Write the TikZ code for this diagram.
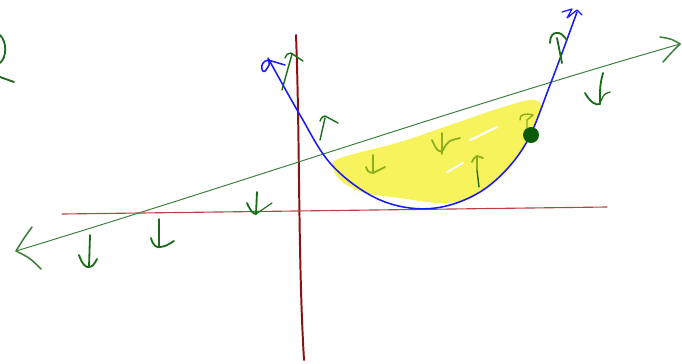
\documentclass[tikz,border=0pt]{standalone}
\usepackage{tikz}
\usetikzlibrary{positioning}

\definecolor{penred}{HTML}{8E1010}
\definecolor{penrose}{HTML}{B54545}
\definecolor{pengreen}{HTML}{1B6B1B}
\definecolor{thingreen}{HTML}{3D803D}
\definecolor{penblue}{HTML}{1A1AF5}
\definecolor{penyellow}{HTML}{F6F35C}
\definecolor{penolive}{HTML}{8CAF1E}
\definecolor{pendot}{HTML}{0B5A0B}

\begin{document}
\begin{tikzpicture}[
    x=0.025cm, y=-0.025cm,
    line cap=round, line join=round,
    axisline/.style={draw=penred, line width=1.4pt},
    baseline/.style={draw=penrose, line width=0.8pt},
    cutline/.style={draw=thingreen, line width=0.7pt},
    curveline/.style={draw=penblue, line width=1.1pt},
    flow/.style={draw=pengreen, line width=1.3pt},
    flowin/.style={draw=penolive, line width=1.3pt},
]
\useasboundingbox (0,0) rectangle (682,363);

% shaded region between line and curve
\fill[penyellow] plot[smooth cycle, tension=0.6] coordinates {
    (333,163) (350,155) (400,142) (450,125) (500,108) (530,100) (541,104)
    (538,116) (527,140) (514,160) (495,180) (470,198) (440,203) (400,198)
    (365,193) (340,180)};
\draw[white, line width=1.6pt] (470,140) -- (497,127);
\draw[white, line width=1.4pt] (447,172) -- (463,163);

% axes
\coordinate (ytop) at (296,35);
\coordinate (ybot) at (304,360);
\draw[axisline] (ytop) .. controls (300,140) and (298,260) .. (ybot);
\coordinate (xleft) at (62,214);
\coordinate (xright) at (607,207);
\draw[baseline] (xleft) -- (xright);

% straight line with both ends
\coordinate (lleft) at (16,251);
\coordinate (lright) at (680,44);
\draw[cutline] (lleft) .. controls (250,180) and (450,110) .. (lright);
\draw[cutline, line width=1.1pt] (32,227) .. controls (24,238) .. (lleft) .. controls (30,258) .. (41,269);
\draw[cutline, line width=1.1pt] (660,37) .. controls (672,39) .. (lright) .. controls (672,52) .. (663,62);

% parabola
\coordinate (cleft) at (268,58);
\coordinate (cright) at (577,12);
\draw[curveline] plot[smooth, tension=0.6] coordinates {
    (cleft) (300,115) (330,163) (370,195) (410,208) (450,205)
    (490,185) (525,145) (550,85) (cright)};
\draw[curveline] (268,60) .. controls (258,62) and (262,76) .. (266,70)
    .. controls (270,64) .. (268,60) -- (285,65);
\draw[curveline, line width=0.9pt] (562,12) -- (572,9) -- (567,18) -- (577,10) -- (582,15);

% point on the curve
\fill[pendot] (531,135) circle (8);
\node[circle, minimum size=0.4cm, inner sep=0pt] (pt) at (531,135) {};

% arrows below the line
\draw[flow] (90,235) -- (89,267);
\draw[flow] (79,255) .. controls (82,264) and (86,268) .. (89,267) .. controls (93,266) .. (97,259);
\draw[flow] (159,219) -- (159,247);
\draw[flow] (151,238) .. controls (153,246) and (157,248) .. (160,247) .. controls (166,246) .. (174,241);
\draw[flow] (257,192) -- (256,214);
\draw[flow] (247,203) .. controls (250,210) and (253,214) .. (256,214);
\draw[flow, line width=0.8pt] (256,214) -- (272,203);
\draw[flow] (603,73) .. controls (600,85) .. (600,104);
\draw[flow] (585,93) .. controls (590,102) and (596,106) .. (600,104);
\draw[flow, line width=0.9pt] (601,101) .. controls (604,94) .. (610,92);

% arrows above the line
\draw[flow, line width=1pt] (282,90) -- (292,54);
\draw[flow, line width=1pt] (285,58) .. controls (287,54) .. (291,53) -- (303,61);
\draw[flow, line width=1pt] (320,140) -- (325,118);
\draw[flow, line width=1pt] (320,121) .. controls (322,117) .. (325,116) -- (338,123);
\draw[flow] (562,63) .. controls (560,50) .. (557,38);
\draw[flow] (550,43) .. controls (550,36) and (553,33) .. (556,33) .. controls (561,33) .. (567,40);

% arrows inside the region
\draw[flowin] (373,155) -- (373,173);
\draw[flowin] (366,167) .. controls (368,172) .. (373,173) -- (385,167);
\draw[flowin] (442,133) -- (442,154);
\draw[flowin] (432,140) .. controls (436,150) and (440,154) .. (443,150) .. controls (448,141) .. (460,138);
\draw[flow, line width=1pt] (479,187) -- (477,170);
\draw[flowin] (477,170) -- (477,157);
\draw[flowin] (472,162) .. controls (474,158) .. (477,156) -- (483,158);
\draw[flowin, line width=1pt] (520,120) .. controls (519,114) and (526,113) .. (533,115) .. controls (530,118) .. (527,120) -- (527,128);

% stray stroke at the left edge
\draw[flow] (0,35) .. controls (7,42) and (7,57) .. (0,63);
\draw[flow] (0,77) -- (14,82);
\end{tikzpicture}
\end{document}
